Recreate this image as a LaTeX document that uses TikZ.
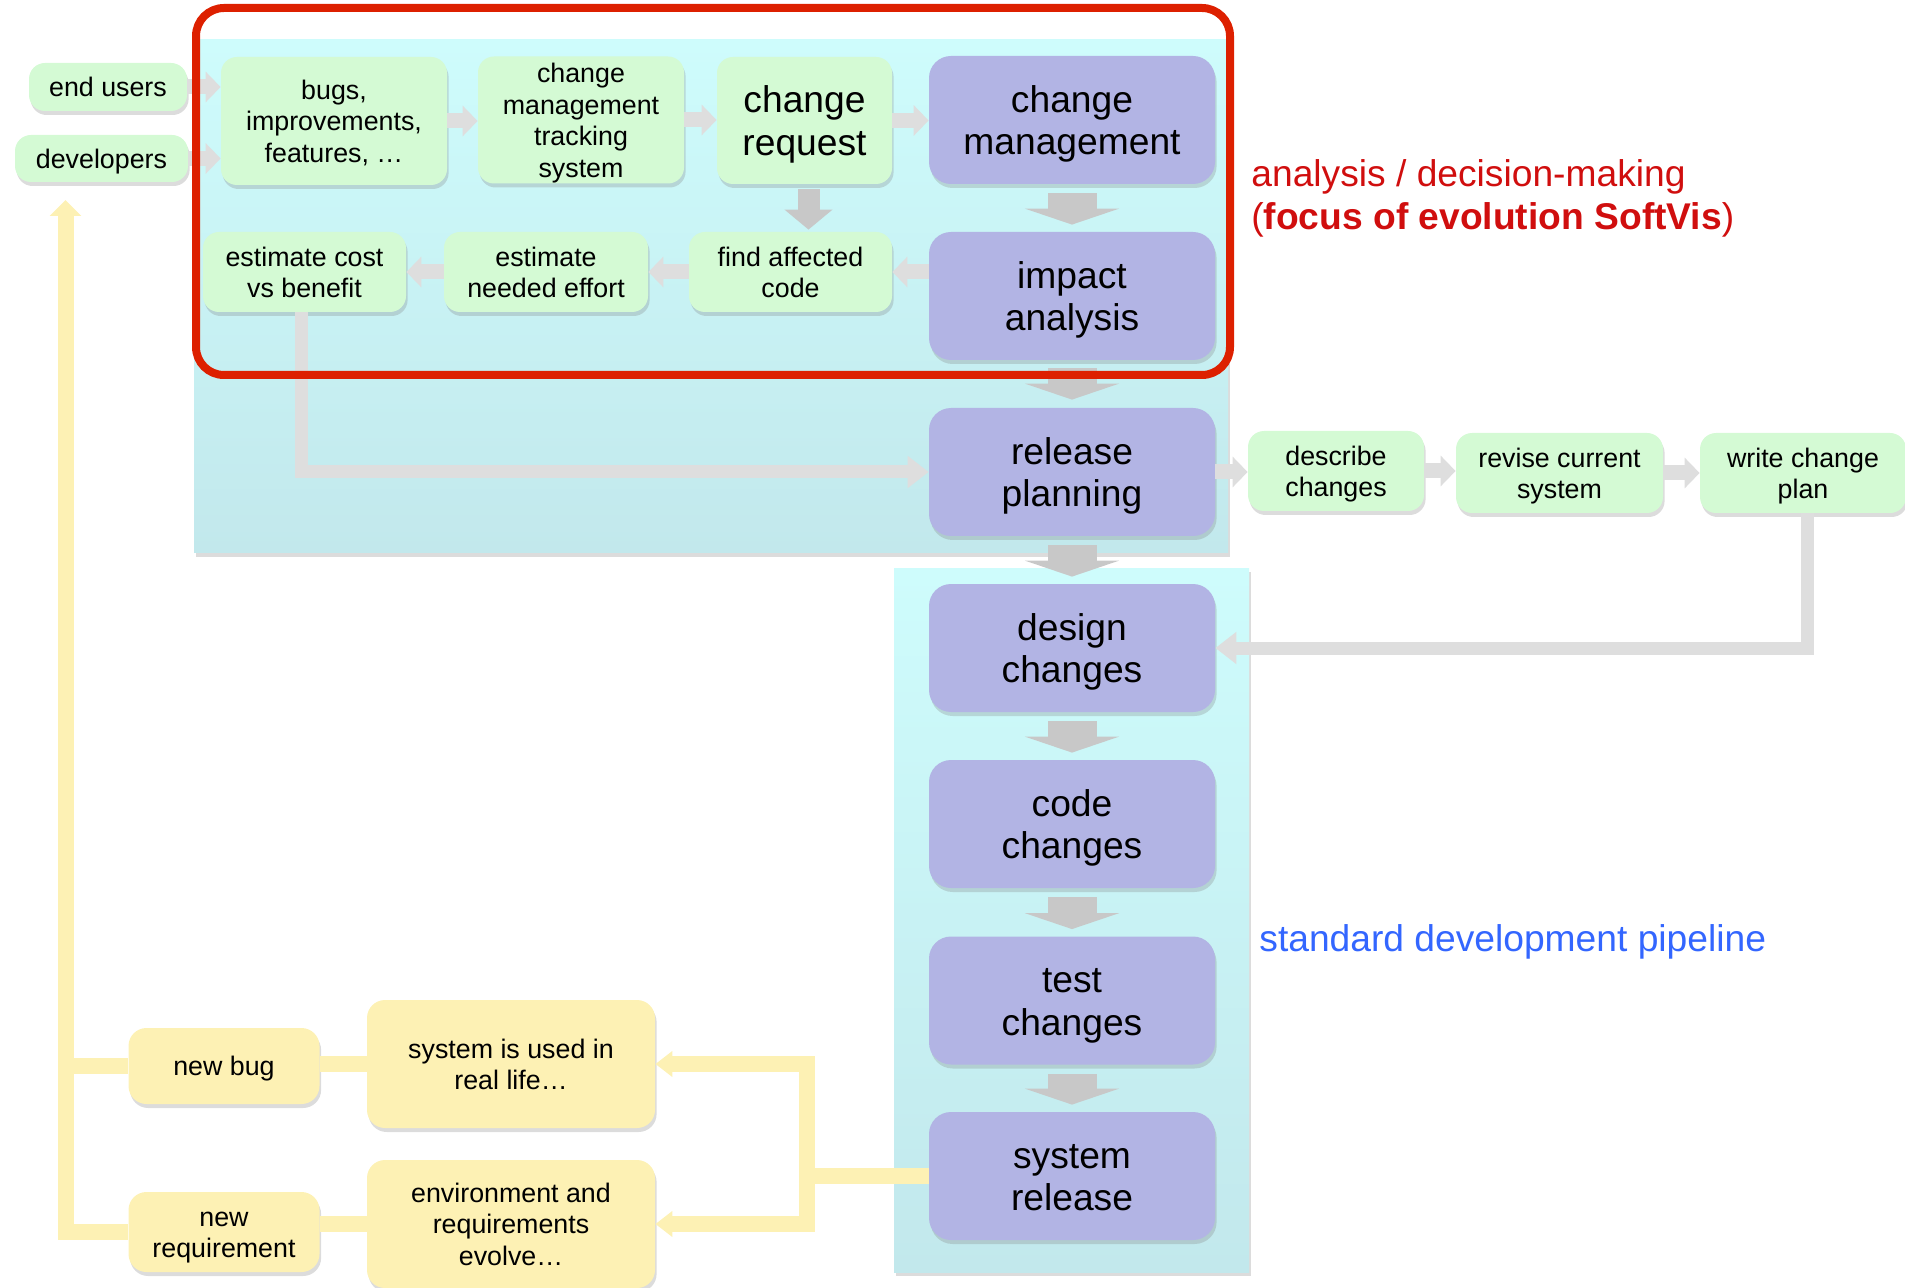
\documentclass[tikz,border=0pt]{standalone}
\usepackage{fontspec}
\setmainfont{Liberation Sans}
\usetikzlibrary{arrows.meta,shadows}
\definecolor{gfill}{RGB}{212,250,212}
\definecolor{pfill}{RGB}{178,180,228}
\definecolor{yfill}{RGB}{253,241,180}
\definecolor{cyanT}{RGB}{206,252,252}
\definecolor{cyanB}{RGB}{194,232,236}
\definecolor{lgray}{RGB}{222,222,222}
\definecolor{dgray}{RGB}{200,200,200}
\definecolor{redbox}{RGB}{221,32,0}
\definecolor{redtxt}{RGB}{208,14,14}
\definecolor{bluetxt}{RGB}{51,102,255}
\newcommand\tx[2][-1.8pt]{\raisebox{#1}[\height][\depth]{\begin{tabular}{@{}c@{}}#2\end{tabular}}}
\begin{document}
\begin{tikzpicture}[x=0.5pt,y=-0.5pt,
  shad/.style={drop shadow={opacity=0.28,shadow xshift=0.8pt,shadow yshift=-2pt}},
  box/.style={shad, inner sep=0pt, align=center, text=black},
  gbox/.style={box, fill=gfill, rounded corners=8pt, font=\fontsize{13.4}{15.8}\selectfont},
  ybox/.style={box, fill=yfill, rounded corners=9pt, font=\fontsize{13.4}{15.8}\selectfont},
  pbox/.style={box, fill=pfill, rounded corners=11pt, font=\fontsize{18.6}{21.25}\selectfont, minimum width=143pt, minimum height=64pt},
  sarr/.style={draw=lgray, line width=7.5pt, -{Triangle[width=15pt,length=7.5pt]}},
  barr/.style={draw=dgray, line width=24.5pt, -{Triangle[width=47pt,length=8pt]}},
  narr/.style={draw=dgray, line width=11pt, -{Triangle[width=23.5pt,length=10pt]}},
  lline/.style={draw=lgray, line width=6.5pt, -{Triangle[width=15.5pt,length=10.5pt]}},
  yline/.style={draw=yfill, line width=8pt},
  yarr/.style={yline, -{Triangle[width=12.5pt,length=8.5pt]}},
  ]
\useasboundingbox (0,0) rectangle (1905,1288);
% backgrounds
\path[shad, top color=cyanT, bottom color=cyanB] (194,40) rectangle (1228,553);
\path[shad, top color=cyanT, bottom color=cyanB] (894,568) rectangle (1249,1272);
% nodes
\node[gbox, minimum width=79pt, minimum height=24pt] (eu) at (108,87) {\tx{end users}};
\node[gbox, minimum width=86.5pt, minimum height=23.5pt] (dev) at (101.5,158.5) {\tx{developers}};
\node[gbox, minimum width=113pt, minimum height=64pt] (bugs) at (334,121) {\tx{bugs,\\improvements,\\features, …}};
\node[gbox, minimum width=103pt, minimum height=63.5pt] (cmts) at (581,120) {\tx{change\\management\\tracking\\system}};
\node[gbox, minimum width=87.5pt, minimum height=63.5pt, font=\fontsize{18.6}{21.25}\selectfont] (creq) at (804.5,120.5) {\tx[-2.4pt]{change\\request}};
\node[pbox] (cm) at (1072,120) {\tx[-2.4pt]{change\\management}};
\node[pbox] (ia) at (1072,296) {\tx[-2.4pt]{impact\\analysis}};
\node[gbox, minimum width=101.5pt, minimum height=40pt] (fac) at (790.5,272) {\tx{find affected\\code}};
\node[gbox, minimum width=102pt, minimum height=40pt] (ene) at (546,272) {\tx{estimate\\needed effort}};
\node[gbox, minimum width=101.5pt, minimum height=40pt] (ecb) at (304.5,272) {\tx{estimate cost\\vs benefit}};
\node[pbox] (rp) at (1072,472) {\tx[-2.4pt]{release\\planning}};
\node[gbox, minimum width=88pt, minimum height=40pt] (desc) at (1336,471) {\tx{describe\\changes}};
\node[gbox, minimum width=103.5pt, minimum height=40pt] (rev) at (1559.5,473) {\tx{revise current\\system}};
\node[gbox, minimum width=103pt, minimum height=40pt] (wcp) at (1803,473) {\tx{write change\\plan}};
\node[pbox] (des) at (1072,648) {\tx[-2.4pt]{design\\changes}};
\node[pbox] (code) at (1072,824) {\tx[-2.4pt]{code\\changes}};
\node[pbox] (test) at (1072,1000.5) {\tx[-2.4pt]{test\\changes}};
\node[pbox] (sr) at (1072,1176) {\tx[-2.4pt]{system\\release}};
\node[ybox, minimum width=95.5pt, minimum height=38pt] (nb) at (224,1066) {\tx{new bug}};
\node[ybox, minimum width=144pt, minimum height=64pt] (su) at (511,1064) {\tx{system is used in\\real life…}};
\node[ybox, minimum width=95.5pt, minimum height=40pt] (nr) at (224,1232) {\tx{new\\requirement}};
\node[ybox, minimum width=144pt, minimum height=64pt] (env) at (511,1224) {\tx{environment and\\requirements\\evolve…}};
% labels
\node[anchor=west, align=left, inner sep=0pt, text=redtxt, font=\fontsize{18.6}{21.5}\selectfont] (lab1) at (1251,198) {analysis / decision-making\\(\textbf{focus of evolution SoftVis})};
\node[anchor=west, inner sep=0pt, text=bluetxt, font=\fontsize{18.6}{21.5}\selectfont] (lab2) at (1259,942) {standard development pipeline};
% small gray arrows
\draw[sarr] (eu.east) -- (eu.east -| bugs.west);
\draw[sarr] (dev.east) -- (dev.east -| bugs.west);
\draw[sarr] (bugs.east) -- (bugs.east -| cmts.west);
\draw[sarr] (cmts.east) -- (cmts.east -| creq.west);
\draw[sarr] (creq.east) -- (creq.east -| cm.west);
\draw[sarr] (fac.east -| ia.west) -- (fac.east);
\draw[sarr] (fac.west) -- (fac.west -| ene.east);
\draw[sarr] (ene.west) -- (ene.west -| ecb.east);
\draw[sarr] (rp.east) -- (rp.east -| desc.west);
\draw[sarr] (desc.east) -- (desc.east -| rev.west);
\draw[sarr] (rev.east) -- (rev.east -| wcp.west);
% big down arrows
\draw[narr] ([xshift=2pt,yshift=-2.5pt]creq.south) -- ([xshift=2pt,yshift=1pt]creq.south |- fac.north);
\draw[barr] ([yshift=-4.5pt]cm.south) -- ([yshift=3.5pt]ia.north);
\draw[barr] ([yshift=-4pt]ia.south) -- ([yshift=4pt]rp.north);
\draw[barr] ([yshift=-4.5pt]rp.south) -- ([yshift=3.5pt]des.north);
\draw[barr] ([yshift=-4.5pt]des.south) -- ([yshift=3.5pt]code.north);
\draw[barr] ([yshift=-4.5pt]code.south) -- ([yshift=3.5pt]test.north);
\draw[barr] ([yshift=-4.5pt]test.south) -- ([yshift=3.5pt]sr.north);
% long gray connectors
\draw[lline] ([xshift=-1.75pt]ecb.south) |- (rp.west);
\draw[lline] ([xshift=2pt]wcp.south) |- (des.east);
% yellow feedback
\coordinate (j) at (807,1176);
\coordinate (up) at (65.5,200);
\draw[yline] (sr.west) -- (j);
\draw[yarr] (j) |- (su.east);
\draw[yarr] (j) |- (env.east);
\draw[yline] (su.west) -- (su.west -| nb.east);
\draw[yline] (env.west) -- (env.west -| nr.east);
\draw[yline] (nb.west) -- (nb.west -| up);
\draw[yline, -{Triangle[width=15.5pt,length=8pt]}] (nr.west) -| (up);
% red focus box
\draw[redbox, line width=4pt, rounded corners=14pt] (196,8) rectangle (1230,375);
\end{tikzpicture}
\end{document}
